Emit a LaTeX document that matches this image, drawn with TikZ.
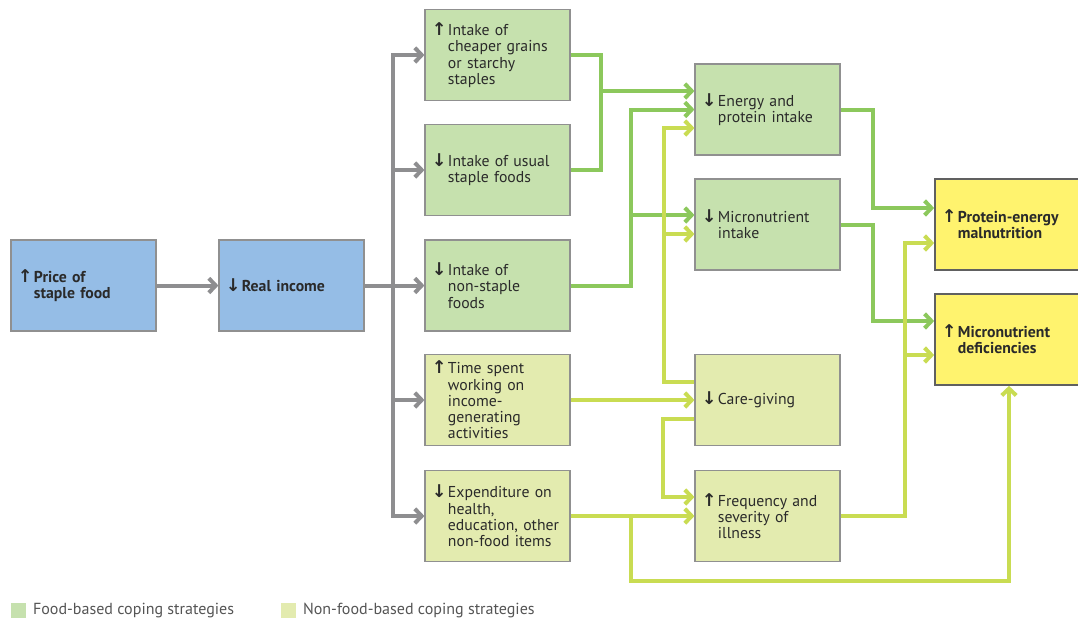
\documentclass[tikz,border=0pt]{standalone}
\usepackage{fontspec}
\setmainfont{PT Sans}
\newfontfamily\arrowfont{DejaVu Sans}
\usetikzlibrary{arrows.meta, calc}
\definecolor{boxBlue}{HTML}{95BDE6}
\definecolor{foodFill}{HTML}{C6E1AE}
\definecolor{nonfoodFill}{HTML}{E3EBAF}
\definecolor{outcomeFill}{HTML}{FFF36E}
\definecolor{foodLine}{HTML}{8CC85C}
\definecolor{nonfoodLine}{HTML}{C9DC52}
\definecolor{busGray}{HTML}{8E8E90}
\definecolor{edgeGray}{HTML}{909090}
\definecolor{textDark}{HTML}{2A2A2A}
\definecolor{keyText}{HTML}{555555}

\newcommand{\upl}[1]{\makebox[0.4cm][l]{\arrowfont\bfseries\fontsize{12.5}{11.6}\selectfont ↑}\parbox[t]{3.1cm}{#1}}
\newcommand{\downl}[1]{\makebox[0.4cm][l]{\arrowfont\bfseries\fontsize{12.5}{11.6}\selectfont ↓}\parbox[t]{3.1cm}{#1}}

\begin{document}
\begin{tikzpicture}[x=0.025cm, y=-0.025cm,
    box/.style={draw=edgeGray, line width=0.8pt, text width=3.275cm, inner xsep=0.175cm,
        minimum height=2.275cm, align=left, text=textDark, font=\fontsize{11.2}{11.6}\selectfont},
    bluebox/.style={box, fill=boxBlue, font=\fontsize{11.2}{11.6}\selectfont\bfseries},
    foodbox/.style={box, fill=foodFill},
    nonfoodbox/.style={box, fill=nonfoodFill},
    outcomebox/.style={box, fill=outcomeFill, draw=gray!75!black, line width=1.2pt,
        text width=3.35cm, font=\fontsize{11.2}{11.6}\selectfont\bfseries},
    link/.style={line width=0.1cm},
    busline/.style={link, draw=busGray},
    foodline/.style={link, draw=foodLine},
    nonfoodline/.style={link, draw=nonfoodLine},
    chev/.style={-{Straight Barb[length=0.17cm, width=0.36cm]}},
    keysq/.style={minimum size=0.375cm, inner sep=0pt},
    keytext/.style={text=keyText, font=\fontsize{11.4}{12}\selectfont, inner xsep=2pt}]
    \path[use as bounding box, fill=white] (0,0) rectangle (1078,621);

    % boxes
    \node[bluebox] (price) at (83.5,285.5) {\upl{Price of\\staple food}};
    \node[bluebox] (income) at (291.5,285.5) {\downl{Real income}};

    \node[foodbox] (cheap) at (497.5,55) {\upl{Intake of\\cheaper grains\\or starchy\\staples}};
    \node[foodbox] (usual) at (497.5,170) {\downl{Intake of usual\\staple foods}};
    \node[foodbox] (nonstaple) at (497.5,285.5) {\downl{Intake of\\non-staple\\foods}};
    \node[nonfoodbox] (work) at (497.5,400) {\upl{Time spent\\working on\\income-\\generating\\activities}};
    \node[nonfoodbox] (spend) at (497.5,516) {\downl{Expenditure on\\health,\\education, other\\non-food items}};

    \node[foodbox] (energy) at (767.5,109.5) {\downl{Energy and\\protein intake}};
    \node[foodbox] (micro) at (767.5,224.5) {\downl{Micronutrient\\intake}};
    \node[nonfoodbox] (care) at (767.5,400) {\downl{Care-giving}};
    \node[nonfoodbox] (illness) at (767.5,516) {\upl{Frequency and\\severity of\\illness}};

    \node[outcomebox] (pem) at (1009,224.5) {\upl{Protein-energy\\malnutrition}};
    \node[outcomebox] (defic) at (1009,339.5) {\upl{Micronutrient\\deficiencies}};

    % price and income
    \draw[busline, chev] (price) -- (income);
    \coordinate (bus) at (393,285.5);
    \draw[busline, chev] (bus) |- (cheap.west);
    \draw[busline, chev] (bus) |- (spend.west);
    \foreach \n in {usual, work}
        \draw[busline, chev] (bus |- \n) -- (\n.west);
    \draw[busline, chev] (income) -- (nonstaple);

    % food-based links
    \coordinate (fj1) at (601,91);
    \coordinate (fj2) at (631,109.5);
    \coordinate (fj3) at (631,215);
    \draw[foodline] (cheap.east) -| (fj1) |- (usual.east);
    \draw[foodline, chev] (fj1) -- (fj1 -| energy.west);
    \draw[foodline, chev] (nonstaple.east) -| (fj2) -- (energy.west);
    \draw[foodline, chev] (fj3) -- (fj3 -| micro.west);
    \draw[foodline, chev] (energy.east) -- ++(32,0) |- ($(pem.west)+(0,-16.5)$);
    \draw[foodline, chev] (micro.east) -- ++(32,0) |- ($(defic.west)+(0,-18.5)$);

    % non-food-based links
    \coordinate (nj1) at (664,128);
    \coordinate (nj2) at (664,234);
    \coordinate (nj3) at (905,355);
    \coordinate (nj4) at (631,516);
    \draw[nonfoodline, chev] (work) -- (care);
    \draw[nonfoodline, chev] (spend) -- (illness);
    \draw[nonfoodline, chev] ($(care.west)+(0,-18)$) -| (nj1) -- (nj1 -| energy.west);
    \draw[nonfoodline, chev] (nj2) -- (nj2 -| micro.west);
    \draw[nonfoodline, chev] ($(care.west)+(0,19)$) -- ++(-31,0) |- ($(illness.west)+(0,-19)$);
    \draw[nonfoodline, chev] (illness.east) -| (nj3) |- ($(pem.west)+(0,18.5)$);
    \draw[nonfoodline, chev] (nj3) -- (nj3 -| defic.west);
    \draw[nonfoodline, chev] (nj4) -- ++(0,65) -| (defic.south);

    % key
    \node[keysq, fill=foodFill] (foodkey) at (18.5,610.5) {};
    \node[keytext, anchor=west] (foodkeytext) at (30,610.5) {Food-based coping strategies};
    \node[keysq, fill=nonfoodFill] (nonfoodkey) at (288.5,610.5) {};
    \node[keytext, anchor=west] (nonfoodkeytext) at (300,610.5) {Non-food-based coping strategies};
\end{tikzpicture}
\end{document}
